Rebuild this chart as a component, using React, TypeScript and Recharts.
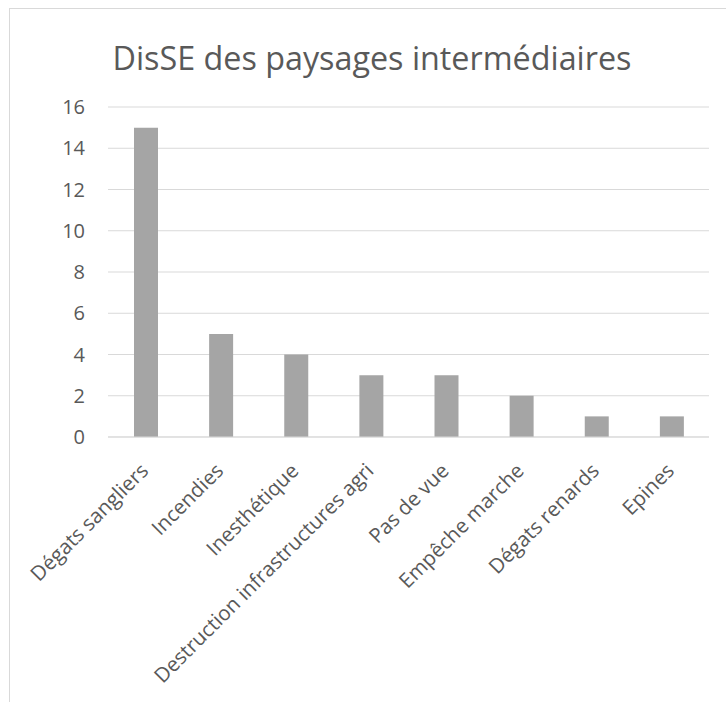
import React from 'react';
import { BarChart, Bar, XAxis, YAxis, CartesianGrid } from 'recharts';

const categories = [
  'Dégats sangliers',
  'Incendies',
  'Inesthétique',
  'Destruction infrastructures agri',
  'Pas de vue',
  'Empêche marche',
  'Dégats renards',
  'Epines',
];
const values = [15, 5, 4, 3, 3, 2, 1, 1];
const yTicks = [0, 2, 4, 6, 8, 10, 12, 14, 16];

const data = categories.map((name, i) => ({ name, value: values[i] }));

const font = '"Open Sans", sans-serif';
const textColor = '#595959';

function AngledTick({ x, y, payload }: any) {
  return (
    <g transform={`translate(${x + 4},${y + 27})`}>
      <text
        x={0}
        y={0}
        textAnchor="end"
        transform="rotate(-45)"
        fill={textColor}
        fontSize={20.5}
        fontFamily={font}
      >
        {payload.value}
      </text>
    </g>
  );
}

export default function App() {
  return (
    <div style={{ position: 'fixed', left: 0, top: 0, width: 726, height: 702, overflow: 'hidden', background: '#fff' }}>
      <div
        style={{
          position: 'absolute', left: 9, top: 8, width: 740, height: 720,
          border: '1px solid #d9d9d9', boxSizing: 'border-box',
        }}
      />
      <div
        style={{
          position: 'absolute', left: 9, top: 35, width: 726, textAlign: 'center',
          fontFamily: font, fontSize: 32.3, color: textColor, lineHeight: 'normal',
        }}
      >
        DisSE des paysages intermédiaires
      </div>
      <div style={{ position: 'absolute', left: 0, top: 0 }}>
        <BarChart
          width={726}
          height={702}
          data={data}
          margin={{ top: 107, right: 17, bottom: 65, left: 48 }}
        >
          <CartesianGrid vertical={false} stroke="#d9d9d9" />
          <XAxis
            dataKey="name"
            interval={0}
            height={200}
            tickLine={false}
            axisLine={{ stroke: '#d9d9d9' }}
            tick={<AngledTick />}
          />
          <YAxis
            width={60}
            domain={[0, 16]}
            ticks={yTicks}
            tickLine={false}
            axisLine={false}
            tickMargin={17}
            tick={{ fill: textColor, fontSize: 20, fontFamily: font }}
          />
          <Bar dataKey="value" fill="#a5a5a5" barSize={24} isAnimationActive={false} />
        </BarChart>
      </div>
    </div>
  );
}
